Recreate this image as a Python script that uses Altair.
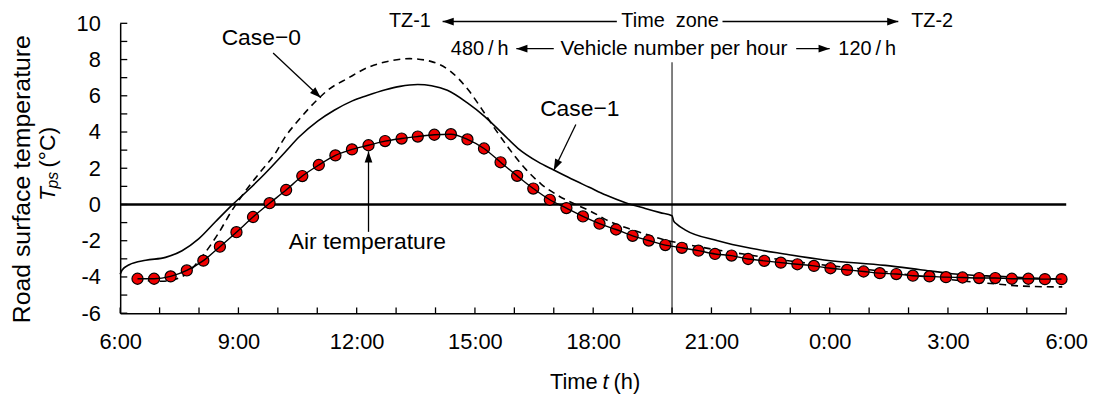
import math
import altair as alt
import pandas as pd

FONT = "Liberation Sans"

# ---------------- data (hours since 6:00, temperature in deg C) ----------------
air_hours = [0.44, 0.86, 1.28, 1.69, 2.11, 2.53, 2.95, 3.37, 3.79, 4.21, 4.62, 5.04,
             5.46, 5.88, 6.30, 6.72, 7.14, 7.55, 7.97, 8.39, 8.81, 9.23, 9.65, 10.07,
             10.48, 10.90, 11.32, 11.74, 12.16, 12.58, 13.00, 13.41, 13.83, 14.25, 14.67,
             15.09, 15.51, 15.93, 16.34, 16.76, 17.18, 17.60, 18.02, 18.44, 18.86, 19.27,
             19.69, 20.11, 20.53, 20.95, 21.37, 21.79, 22.20, 22.62, 23.04, 23.46, 23.88]
air_temp = [-4.10, -4.10, -3.97, -3.64, -3.10, -2.33, -1.53, -0.69, 0.07, 0.80, 1.57, 2.18,
            2.71, 3.04, 3.27, 3.50, 3.64, 3.75, 3.85, 3.88, 3.59, 3.09, 2.33, 1.58,
            0.88, 0.26, -0.20, -0.66, -1.06, -1.38, -1.73, -1.99, -2.24, -2.39, -2.55,
            -2.73, -2.82, -3.01, -3.11, -3.21, -3.30, -3.39, -3.52, -3.61, -3.70, -3.79,
            -3.84, -3.93, -3.97, -4.01, -4.03, -4.06, -4.06, -4.10, -4.10, -4.12, -4.12]

case1_hours = [0.00, 0.05, 0.23, 0.65, 1.15, 1.57, 1.99, 2.41, 2.83, 3.25, 3.67, 4.17,
               4.55, 5.01, 5.43, 5.89, 6.25, 6.73, 7.10, 7.55, 7.90, 8.30, 8.80, 9.25,
               9.67, 10.09, 10.60, 11.00, 11.44, 11.90, 12.32, 12.82, 13.32, 13.70, 14.00,
               14.04, 14.12, 14.33, 15.16, 16.00, 16.85, 17.86, 19.41, 20.30, 21.10, 22.30, 24.00]
case1_temp = [-3.85, -3.62, -3.33, -3.08, -2.92, -2.55, -1.90, -0.97, -0.05, 0.80, 1.70, 2.86,
              3.75, 4.60, 5.20, 5.72, 6.00, 6.33, 6.52, 6.62, 6.55, 6.30, 5.62, 4.85,
              3.98, 3.10, 2.35, 1.90, 1.42, 0.95, 0.52, 0.10, -0.22, -0.45, -0.62,
              -0.90, -1.08, -1.40, -2.00, -2.42, -2.73, -3.06, -3.36, -3.60, -3.82, -3.97, -4.12]

case0_hours = [0.40, 1.05, 1.40, 1.65, 2.07, 2.49, 2.83, 3.00, 3.25, 3.58, 3.92, 4.17,
               4.50, 5.01, 5.26, 5.77, 6.27, 6.75, 7.35, 7.88, 8.38, 8.84, 9.17, 9.50,
               9.85, 10.25, 10.68, 11.11, 11.61, 11.94, 12.45, 12.90, 13.41, 13.83, 14.25,
               14.75, 16.00, 17.00, 18.00, 19.00, 20.00, 20.80, 21.50, 22.30, 22.70, 23.20, 23.90]
case0_temp = [-4.15, -4.24, -4.12, -3.88, -2.90, -1.60, -0.35, 0.20, 0.95, 1.86, 2.77, 3.68,
              4.59, 5.80, 6.30, 6.96, 7.55, 7.88, 8.05, 7.90, 7.35, 6.30, 5.28, 4.20,
              3.13, 2.04, 1.13, 0.49, -0.05, -0.38, -0.97, -1.33, -1.69, -1.97, -2.15,
              -2.36, -2.80, -3.12, -3.38, -3.60, -3.88, -4.08, -4.25, -4.40, -4.48, -4.53, -4.55]

x_tick_values = list(range(0, 25))
x_label_values = [0, 3, 6, 9, 12, 15, 18, 21, 24]
y_tick_values = list(range(-6, 11))
y_label_values = [-6, -4, -2, 0, 2, 4, 6, 8, 10]
zone_boundary = 14.0  # 20:00

ROW1 = 10.10
ROW2 = 8.60
# annotation texts: label, x (h), y (degC), font size
ann_text = [
    ("TZ-1", 7.35, ROW1, 20), ("Time\u00a0 zone", 13.95, ROW1, 20), ("TZ-2", 20.6, ROW1, 20),
    ("480\u2009/\u2009h", 9.12, ROW2, 20), ("Vehicle number per hour", 14.05, ROW2, 21),
    ("120\u2009/\u2009h", 18.95, ROW2, 20),
    ("Case\u22120", 3.58, 9.18, 23), ("Case\u22121", 11.66, 5.29, 23),
    ("Air temperature", 6.27, -2.05, 23),
]
# arrows: x_from, y_from, x_tip, y_tip
ann_arrows = [
    (3.88, 8.36, 5.09, 5.89),
    (11.56, 4.41, 11.0, 1.89),
    (6.30, -1.51, 6.30, 2.93),
    (12.6, ROW1, 8.18, ROW1),
    (15.28, ROW1, 19.74, ROW1),
    (11.0, ROW2, 10.05, ROW2),
    (17.15, ROW2, 18.0, ROW2),
]

W, H = 953, 292
PX_H = W / 24.0
PX_T = H / 16.0

xs = alt.Scale(domain=[0, 24], nice=False, zero=False)
ys = alt.Scale(domain=[-6, 10], nice=False, zero=False)

XAX = alt.Axis(values=x_label_values, labelExpr="((datum.value + 6) % 24) + ':00'",
               ticks=False, domainColor="black", domainWidth=1.5, grid=False, title="",
               labelFont=FONT, labelFontSize=22, labelColor="black", labelPadding=19,
               labelFlush=False)
YAX = alt.Axis(values=y_label_values, labelExpr="'' + datum.value",
               ticks=False, domainColor="black", domainWidth=1.5, grid=False, title="",
               labelFont=FONT, labelFontSize=22, labelColor="black", labelPadding=20)


def X(f):
    return alt.X(f, scale=xs, axis=XAX)


def Y(f):
    return alt.Y(f, scale=ys, axis=YAX)


air_df = pd.DataFrame({"h": air_hours, "T": air_temp})
c1_df = pd.DataFrame({"h": case1_hours, "T": case1_temp})
c0_df = pd.DataFrame({"h": case0_hours, "T": case0_temp})

zero_df = pd.DataFrame({"x": [0], "x2": [24], "y": [0]})
zero = alt.Chart(zero_df).mark_rule(color="black", strokeWidth=2.5).encode(
    x=X("x:Q"), x2="x2:Q", y=Y("y:Q"))

xt_df = pd.DataFrame({"x": x_tick_values, "y": -6.0, "y2": -5.68})
xticks = alt.Chart(xt_df).mark_rule(color="black", strokeWidth=1.3).encode(
    x=X("x:Q"), y=Y("y:Q"), y2="y2:Q")

yt_df = pd.DataFrame({"y": y_tick_values, "x": 0.0, "x2": 0.18})
yticks = alt.Chart(yt_df).mark_rule(color="black", strokeWidth=1.3).encode(
    y=Y("y:Q"), x=X("x:Q"), x2="x2:Q")

vl_df = pd.DataFrame({"x": [zone_boundary], "y": [-6.0], "y2": [7.85]})
vline = alt.Chart(vl_df).mark_rule(color="black", strokeWidth=1).encode(
    x=X("x:Q"), y=Y("y:Q"), y2="y2:Q")

case0 = alt.Chart(c0_df).mark_line(color="black", strokeWidth=1.6, strokeDash=[7, 5],
                                   interpolate="monotone").encode(x=X("h:Q"), y=Y("T:Q"))

case1 = alt.Chart(c1_df).mark_line(color="black", strokeWidth=1.6,
                                   interpolate="monotone").encode(x=X("h:Q"), y=Y("T:Q"))

markers = alt.Chart(air_df).mark_point(shape="circle", filled=True, fill="#f00000",
                                       stroke="black", strokeWidth=1.2, size=125,
                                       opacity=1).encode(x=X("h:Q"), y=Y("T:Q"))

air_line = alt.Chart(air_df).mark_line(color="black", strokeWidth=1.4,
                                       interpolate="monotone").encode(x=X("h:Q"), y=Y("T:Q"))

rows = []
for x1, y1, x2, y2 in ann_arrows:
    dx = (x2 - x1) * PX_H
    dy = -(y2 - y1) * PX_T
    ang = math.degrees(math.atan2(dx, -dy)) % 360
    rows.append({"x": x1, "y": y1, "x2": x2, "y2": y2, "angle": ang})
arr_df = pd.DataFrame(rows)
arrow_lines = alt.Chart(arr_df).mark_rule(color="black", strokeWidth=1.3).encode(
    x=X("x:Q"), y=Y("y:Q"), x2="x2:Q", y2="y2:Q")
arrow_heads = alt.Chart(arr_df).mark_point(
    shape="M0,0L-0.4,1.15L0.4,1.15Z", filled=True, color="black", size=380, opacity=1,
    strokeWidth=0).encode(
    x=X("x2:Q"), y=Y("y2:Q"), angle=alt.Angle("angle:Q", scale=None))

txt_df = pd.DataFrame(ann_text, columns=["label", "x", "y", "fs"])
texts = alt.Chart(txt_df).mark_text(font=FONT, color="black", align="center",
                                    baseline="middle").encode(
    x=X("x:Q"), y=Y("y:Q"), text="label:N", size=alt.Size("fs:Q", scale=None))


def ptext(s, px, py, fs, style="normal", angle=0, align="center"):
    d = pd.DataFrame({"t": [s]})
    return alt.Chart(d).mark_text(font=FONT, fontSize=fs, fontStyle=style, color="black",
                                  angle=angle, align=align, baseline="middle").encode(
        text="t:N", x=alt.value(px), y=alt.value(py))


titles = [
    ptext("Time", 481, 361, 22, align="right"),
    ptext("t", 489, 361, 22, style="italic"),
    ptext("(h)", 497, 361, 22, align="left"),
    ptext("Road surface temperature", -99, 157, 25, angle=270),
    ptext("T", -73, 172, 23, style="italic", angle=270),
    ptext("ps", -68, 158, 16, style="italic", angle=270),
    ptext("(\u00b0C)", -73, 125, 23, angle=270),
]

chart = alt.layer(
    zero, xticks, yticks, vline, case0, case1, markers, air_line,
    arrow_lines, arrow_heads, texts, *titles
).properties(
    width=W, height=H,
    padding={"left": 113, "top": 14, "right": 29, "bottom": 83},
    autosize=alt.AutoSizeParams(type="none"),
).configure_view(strokeWidth=0)

chart.save("out.html", embed_options={"renderer": "svg", "actions": False})
